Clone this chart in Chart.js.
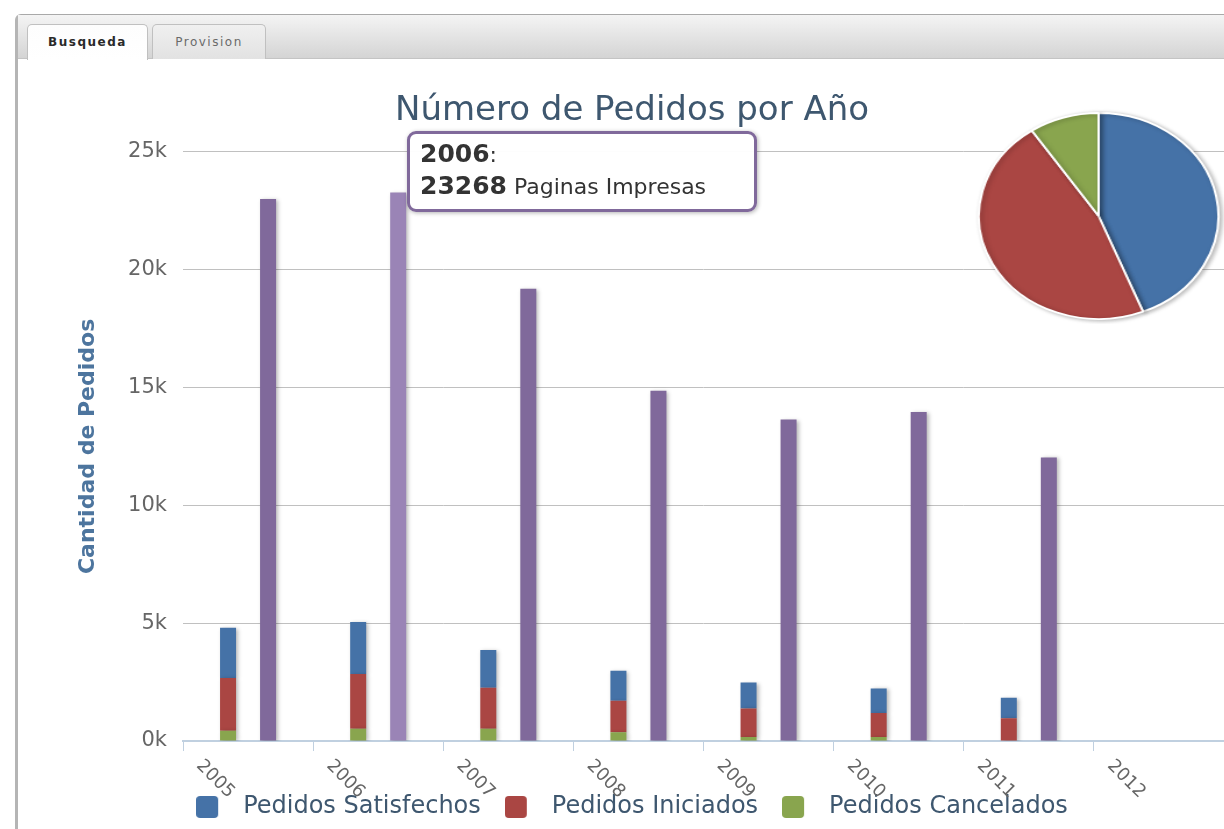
<!DOCTYPE html>
<html lang="es">
<head>
    <meta charset="UTF-8">
    <title>Número de Pedidos por Año</title>
    <script src="https://cdn.jsdelivr.net/npm/chart.js"></script>
    <style>
        * { margin: 0; padding: 0; box-sizing: border-box; }
        body {
            width: 1224px;
            height: 829px;
            overflow: hidden;
            background: #fff;
            font-family: 'DejaVu Sans', Verdana, sans-serif;
            position: relative;
        }
        .frame {
            position: absolute;
            left: 15px; top: 14px;
            width: 1230px; height: 840px;
            border: 1px solid #a9a9a9;
            border-left: 3px solid #b5b5b5;
            border-radius: 6px 0 0 0;
        }
        .tabbar {
            height: 44px;
            background: linear-gradient(#f4f4f4, #d4d4d4);
            border-bottom: 1px solid #c4c4c4;
            position: relative;
        }
        .tab {
            position: absolute;
            top: 9px;
            height: 35px;
            border: 1px solid #c0c0c0;
            border-bottom: none;
            border-radius: 5px 5px 0 0;
            font-size: 12px;
            line-height: 34px;
            text-align: center;
            letter-spacing: 1.5px;
        }
        .tab.active {
            left: 9px; width: 121px;
            background: linear-gradient(#fdfdfd, #ffffff);
            font-weight: bold;
            color: #2a2a2a;
            height: 36px;
        }
        .tab.idle {
            left: 134px; width: 114px;
            background: linear-gradient(#f0f0f0, #e2e2e2);
            color: #6a6a6a;
        }
        .chart-box {
            position: absolute;
            left: 40px; top: 60px;
            width: 1184px; height: 769px;
        }
        .pie-box {
            position: absolute;
            left: 973px; top: 108px;
            width: 216px; height: 216px;
            transform: scaleX(1.163);
            transform-origin: 0 0;
        }
        .tip {
            position: absolute;
            left: 407px; top: 131px;
            width: 350px; height: 81px;
            border: 3px solid #80699b;
            border-radius: 9px;
            background: rgba(255, 255, 255, 0.96);
            box-shadow: 1px 1px 4px rgba(0, 0, 0, 0.3);
            padding: 4px 0 0 10px;
            color: #333;
            font-size: 22px;
            line-height: 31px;
            white-space: nowrap;
        }
        .tip b { font-size: 25px; }
    </style>
</head>
<body>
    <div class="frame">
        <div class="tabbar">
            <div class="tab active">Busqueda</div>
            <div class="tab idle">Provision</div>
        </div>
    </div>

    <div class="chart-box"><canvas id="pedidos"></canvas></div>
    <div class="pie-box"><canvas id="reparto" width="216" height="216"></canvas></div>
    <div class="tip" id="tip"></div>

    <script>
        // datos
        const years = ['2005', '2006', '2007', '2008', '2009', '2010', '2011', '2012'];
        const satisfechos = [2130, 2210, 1600, 1270, 1100, 1040, 860, 0];
        const iniciados = [2230, 2320, 1740, 1340, 1210, 1020, 970, 0];
        const cancelados = [440, 520, 520, 370, 170, 170, 0, 0];
        const paginas = [23000, 23268, 19190, 14860, 13640, 13960, 12030, null];
        const yTicks = [0, 5000, 10000, 15000, 20000, 25000];
        const destacado = 1; // 2006, el del tooltip

        const azul = '#4572a7', rojo = '#aa4643', verde = '#89a54e', morado = '#80699b';

        const shadow = {
            id: 'shadow',
            beforeDatasetsDraw(chart) {
                const c = chart.ctx;
                c.save();
                c.shadowColor = 'rgba(0,0,0,0.28)';
                c.shadowBlur = 4;
                c.shadowOffsetX = 2;
                c.shadowOffsetY = 1;
            },
            afterDatasetsDraw(chart) { chart.ctx.restore(); }
        };

        // etiquetas del eje x giradas 45 grados hacia abajo
        const xLabels = {
            id: 'xLabels',
            afterDraw(chart) {
                const ctx = chart.ctx, x = chart.scales.x;
                ctx.save();
                ctx.font = '18px "DejaVu Sans"';
                ctx.fillStyle = '#666';
                ctx.textBaseline = 'middle';
                ctx.textAlign = 'left';
                years.forEach((yr, i) => {
                    ctx.save();
                    ctx.translate(x.getPixelForValue(i) - 49, x.top + 22);
                    ctx.rotate(Math.PI / 4);
                    ctx.fillText(yr, 0, 0);
                    ctx.restore();
                });
                ctx.restore();
            }
        };

        // cuadrito redondeado con hueco a la derecha, para separar el texto
        function swatch(color) {
            const c = document.createElement('canvas');
            c.width = 35; c.height = 22;
            const g = c.getContext('2d');
            g.fillStyle = color;
            g.beginPath();
            g.roundRect(0, 0, 22, 22, 4);
            g.fill();
            return c;
        }

        const barOpts = { categoryPercentage: 0.615, barPercentage: 0.4 };

        new Chart(document.getElementById('pedidos'), {
            type: 'bar',
            data: {
                labels: years,
                datasets: [
                    { label: 'Pedidos Cancelados', data: cancelados, backgroundColor: verde, stack: 'pedidos', ...barOpts },
                    { label: 'Pedidos Iniciados', data: iniciados, backgroundColor: rojo, stack: 'pedidos', ...barOpts },
                    { label: 'Pedidos Satisfechos', data: satisfechos, backgroundColor: azul, stack: 'pedidos', ...barOpts },
                    {
                        label: 'Paginas Impresas', data: paginas, stack: 'paginas', ...barOpts,
                        backgroundColor: paginas.map((v, i) => i === destacado ? '#9a84b6' : morado)
                    }
                ]
            },
            options: {
                responsive: true,
                maintainAspectRatio: false,
                animation: false,
                plugins: {
                    title: {
                        display: true,
                        text: 'Número de Pedidos por Año',
                        color: '#3E576F',
                        font: { family: 'DejaVu Sans', size: 34, weight: 'normal' },
                        padding: { top: 31, bottom: 20 }
                    },
                    legend: {
                        position: 'bottom',
                        labels: {
                            color: '#3E576F',
                            font: { family: 'DejaVu Sans', size: 24 },
                            usePointStyle: true,
                            pointStyleWidth: 35,
                            boxHeight: 22,
                            padding: 24,
                            filter: item => item.datasetIndex !== 3,
                            sort: (a, b) => b.datasetIndex - a.datasetIndex,
                            generateLabels(chart) {
                                return Chart.defaults.plugins.legend.labels.generateLabels(chart)
                                    .map(it => ({ ...it, pointStyle: swatch(it.fillStyle) }));
                            }
                        }
                    },
                    tooltip: { enabled: false }
                },
                scales: {
                    x: {
                        stacked: true,
                        offset: true,
                        afterFit(scale) { scale.height = 30; },
                        ticks: { display: false },
                        grid: {
                            offset: true,
                            drawOnChartArea: false,
                            drawTicks: true,
                            tickLength: 10,
                            color: '#c0d0e0'
                        },
                        border: { color: '#c0d0e0', width: 2 }
                    },
                    y: {
                        stacked: true,
                        min: 0,
                        max: 25000,
                        afterFit(scale) { scale.width = 143; },
                        afterBuildTicks(scale) { scale.ticks = yTicks.map(v => ({ value: v })); },
                        ticks: {
                            color: '#666',
                            padding: 16,
                            font: { family: 'DejaVu Sans', size: 21 },
                            callback: v => (v / 1000) + 'k'
                        },
                        grid: { color: '#c0c0c0', drawTicks: false },
                        border: { display: false },
                        title: {
                            display: true,
                            text: 'Cantidad de Pedidos',
                            color: '#4d759e',
                            font: { family: 'DejaVu Sans', size: 22, weight: 'bold' },
                            padding: { top: 35, bottom: 0 }
                        }
                    }
                }
            },
            plugins: [shadow, xLabels]
        });

        const total = arr => arr.reduce((s, v) => s + (v || 0), 0);

        new Chart(document.getElementById('reparto'), {
            type: 'pie',
            data: {
                labels: ['Pedidos Satisfechos', 'Pedidos Iniciados', 'Pedidos Cancelados'],
                datasets: [{
                    data: [total(satisfechos), total(iniciados), total(cancelados)],
                    backgroundColor: [azul, rojo, verde],
                    borderColor: '#fff',
                    borderWidth: 2
                }]
            },
            options: {
                responsive: false,
                animation: false,
                layout: { padding: 4 },
                plugins: { legend: { display: false }, tooltip: { enabled: false } }
            },
            plugins: [shadow]
        });

        document.getElementById('tip').innerHTML =
            '<b>' + years[destacado] + '</b>:<br><b>' + paginas[destacado] + '</b> Paginas Impresas';
    </script>
</body>
</html>
